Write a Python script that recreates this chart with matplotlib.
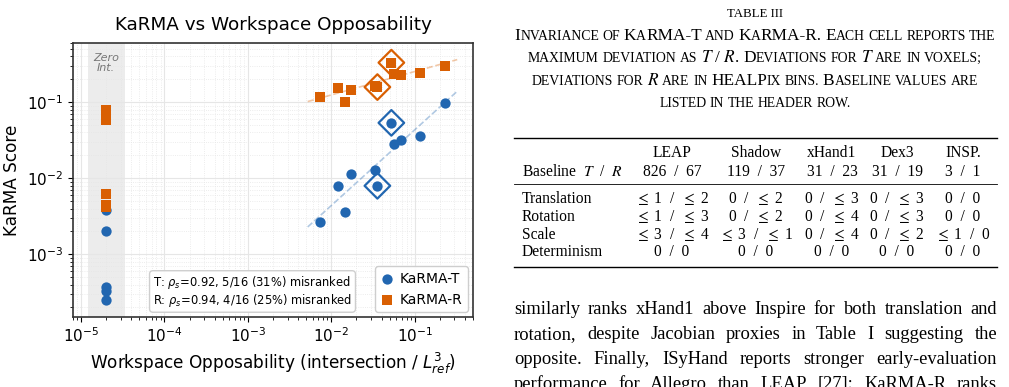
import numpy as np
import matplotlib
matplotlib.use("Agg")
import matplotlib.pyplot as plt

# colours
BLUE = '#2166b0'
ORANGE = '#d95f02'

# hands with non-zero intersection
opp_x = [0.0073, 0.0119, 0.0145, 0.0173, 0.0332, 0.0357, 0.0525, 0.0565, 0.0692, 0.117, 0.231]
karma_t = [0.00267, 0.00803, 0.00365, 0.01135, 0.01295, 0.00796, 0.0535, 0.0282, 0.0315, 0.0356, 0.098]
karma_r = [0.118, 0.155, 0.100, 0.146, 0.165, 0.158, 0.331, 0.237, 0.225, 0.239, 0.299]
highlight = [5, 6]

# hands with zero intersection
zero_x = 2e-5
zero_t = [0.00384, 0.0020, 3.74e-4, 3.31e-4, 2.49e-4]
zero_r = [0.080, 0.058, 0.0062, 0.0045, 0.0042]

stats_text = "T: $\\rho_s$=0.92, 5/16 (31%) misranked\nR: $\\rho_s$=0.94, 4/16 (25%) misranked"

# table
SL = '  /  '
table_cols = ['LEAP', 'Shadow', 'xHand1', 'Dex3', 'INSP.']
table_base = ['826' + SL + '67', '119' + SL + '37', '31' + SL + '23', '31' + SL + '19', '3' + SL + '1']
table_rows = ['Translation', 'Rotation', 'Scale', 'Determinism']
LE = '$\\leq$ '
table_cells = [
    [LE + '1' + SL + LE + '2', '0' + SL + LE + '2', '0' + SL + LE + '3', '0' + SL + LE + '3', '0' + SL + '0'],
    [LE + '1' + SL + LE + '3', '0' + SL + LE + '2', '0' + SL + LE + '4', '0' + SL + LE + '3', '0' + SL + '0'],
    [LE + '3' + SL + LE + '4', LE + '3' + SL + LE + '1', '0' + SL + LE + '4', '0' + SL + LE + '2', LE + '1' + SL + '0'],
    ['0' + SL + '0'] * 5,
]
caption_lines = [
    'Invariance of KaRMA-T and KaRMA-R. Each cell reports the',
    'maximum deviation as $T$ / $R$. Deviations for $T$ are in voxels;',
    'deviations for $R$ are in HEALPix bins. Baseline values are',
    'listed in the header row.',
]
para_lines = [
    'similarly ranks xHand1 above Inspire for both translation and',
    'rotation, despite Jacobian proxies in Table I suggesting the',
    'opposite. Finally, ISyHand reports stronger early-evaluation',
    'performance for Allegro than LEAP [27]; KaRMA-R ranks',
]

W, H = 1009, 387
fig = plt.figure(figsize=(W / 100, H / 100), dpi=100)

def fx(x):
    return x / W

def fy(y):
    return 1 - y / H

#--------------------------------------------------------------#
# chart
ax = fig.add_axes([fx(73), fy(317), 400 / W, 274 / H])
ax.set_xscale('log')
ax.set_yscale('log')
ax.set_xlim(8e-6, 0.5)
ax.set_ylim(1.5e-4, 0.6)

ax.axvspan(1.2e-5, 3.4e-5, color='#ececec', zorder=0, lw=0)
ax.text(zero_x, 0.928, 'Zero\nInt.', transform=ax.get_xaxis_transform(),
        ha='center', va='center', fontsize=8, style='italic', color='#777777',
        linespacing=1.0)

ax.grid(True, which='major', color='#e6e6e6', lw=0.8, zorder=0)
ax.grid(True, which='minor', color='#e6e6e6', lw=0.6, ls=':', zorder=0)
ax.set_axisbelow(True)

xs = np.array(opp_x)
for vals, col in [(karma_t, BLUE), (karma_r, ORANGE)]:
    k, b = np.polyfit(np.log10(xs), np.log10(vals), 1)
    xl = np.array([xs.min() / 1.4, xs.max() * 1.4])
    ax.plot(xl, 10 ** (k * np.log10(xl) + b), ls='--', color=col, alpha=0.35, lw=1.2, zorder=1)

ax.scatter(xs, karma_t, s=55, color=BLUE, marker='o', zorder=3, label='KaRMA-T', lw=0)
ax.scatter([zero_x] * len(zero_t), zero_t, s=55, color=BLUE, marker='o', zorder=3, lw=0)
ax.scatter(xs, karma_r, s=55, color=ORANGE, marker='s', zorder=4, label='KaRMA-R', lw=0)
ax.scatter([zero_x] * len(zero_r), zero_r, s=55, color=ORANGE, marker='s', zorder=4, lw=0)
for i in highlight:
    ax.scatter([xs[i]], [karma_t[i]], s=170, marker='D', facecolor='none', edgecolor=BLUE, lw=1.6, zorder=5)
    ax.scatter([xs[i]], [karma_r[i]], s=170, marker='D', facecolor='none', edgecolor=ORANGE, lw=1.6, zorder=5)

ax.text(0.2, 0.03, stats_text, transform=ax.transAxes, fontsize=8.3, ha='left', va='bottom',
        linespacing=1.05,
        bbox=dict(boxstyle='round,pad=0.3', facecolor='white', edgecolor='#cccccc', alpha=0.95))
ax.legend(loc='lower right', fontsize=10, framealpha=0.95, edgecolor='#cccccc',
          handletextpad=0.4, borderaxespad=0.35, handlelength=1.0, borderpad=0.4)

ax.set_title('KaRMA vs Workspace Opposability', fontsize=13.2, pad=9)
ax.set_ylabel('KaRMA Score', fontsize=12.2)
ax.set_xlabel('Workspace Opposability (intersection / $L_{ref}^3$)', fontsize=12.2)
ax.tick_params(labelsize=11)
for sp in ax.spines.values():
    sp.set_linewidth(1.2)
    sp.set_color('#333333')

#--------------------------------------------------------------#
# table and text on the right
SERIF = 'Liberation Serif'
renderer = fig.canvas.get_renderer()

def ink(t, size):
    tt = fig.text(0, 0, t, fontsize=size, family=SERIF, math_fontfamily='stix')
    v = tt.get_window_extent(renderer).width
    tt.remove()
    return v

def adv(s, size):
    # advance width of a string, in pixels
    return ink('H' + s + 'H', size) - ink('HH', size)

def put(x, y, s, size, ha='left'):
    return fig.text(fx(x), fy(y), s, fontsize=size, family=SERIF, math_fontfamily='stix',
                    ha=ha, va='baseline', color='black')

def sc_runs(word, big, small):
    if word.startswith('$'):
        end = word.index('$', 1)
        out = [(word[:end + 1], big)]
        if word[end + 1:]:
            out += sc_runs(word[end + 1:], big, small)
        return out
    out = []
    for ch in word:
        if ch.islower():
            piece, size = ch.upper(), small
        elif ch.isupper() or not out:
            piece, size = ch, big
        else:
            piece, size = ch, out[-1][1]
        if out and out[-1][1] == size:
            out[-1] = (out[-1][0] + piece, size)
        else:
            out.append((piece, size))
    return out

def smallcaps_line(text, xc, y, big, small):
    words = [sc_runs(wd, big, small) for wd in text.split(' ')]
    widths = [[adv(r, s) for r, s in wd] for wd in words]
    space = adv(' ', small)
    total = sum(sum(w) for w in widths) + space * (len(words) - 1)
    x = xc - total / 2
    for wd, ws in zip(words, widths):
        for (r, s), w in zip(wd, ws):
            put(x, y, r, s)
            x += w
        x += space

def justify_line(text, x0, x1, y, size):
    words = text.split(' ')
    extra = (x1 - x0 - ink(text, size)) / (len(words) - 1)
    put(x0, y, words[0], size)
    for k in range(1, len(words)):
        c = words[k][0]
        off = ink(' '.join(words[:k]) + ' ' + c, size) - ink(c, size)
        put(x0 + off + k * extra, y, words[k], size)

CAP_BIG, CAP_SMALL = 12.4, 9.9
put(755, 17, 'TABLE III', 9.3, ha='center')
for i, line in enumerate(caption_lines):
    smallcaps_line(line, 755, 40 + i * 22.3, CAP_BIG, CAP_SMALL)

TAB = 11.2
L, R = 514, 997
fig.add_artist(plt.Line2D([fx(L), fx(R)], [fy(137.5), fy(137.5)], color='black', lw=1.0))
fig.add_artist(plt.Line2D([fx(L), fx(R)], [fy(184), fy(184)], color='black', lw=0.6))
fig.add_artist(plt.Line2D([fx(L), fx(R)], [fy(266.5), fy(266.5)], color='black', lw=1.0))
col_x = [672, 756, 832, 897, 963]
put(522, 176.5, 'Baseline  $T$' + SL + '$R$', TAB)
for cx, name, base in zip(col_x, table_cols, table_base):
    put(cx, 157, name, TAB, ha='center')
    put(cx, 176.5, base, TAB, ha='center')
for j, (row, cells) in enumerate(zip(table_rows, table_cells)):
    yb = 203 + j * 17.8
    put(522, yb, row, TAB)
    for cx, c in zip(col_x, cells):
        put(cx, yb, c, TAB, ha='center')

PSIZE = 13.3
for i, line in enumerate(para_lines):
    justify_line(line, 514, 997, 314 + i * 25, PSIZE)

fig.savefig('out.png', dpi=100)
